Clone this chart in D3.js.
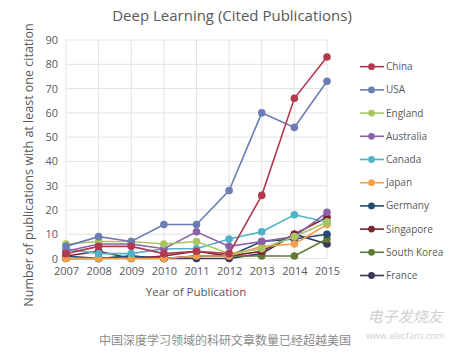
<!DOCTYPE html>
<html><head><meta charset="utf-8">
<script src="https://cdn.jsdelivr.net/npm/d3@7"></script>
<style>body{margin:0;background:#fff}svg{display:block}text{font-family:"Open Sans",sans-serif}</style>
</head><body>
<script>
const years = [2007,2008,2009,2010,2011,2012,2013,2014,2015];
const yTicks = [0,10,20,30,40,50,60,70,80,90];
const seriesNames = ["China","USA","England","Australia","Canada","Japan","Germany","Singapore","South Korea","France"];
const China      = [2,5,5,2,3,2,26,66,83];
const USA        = [5,9,7,14,14,28,60,54,73];
const England    = [6,7,7,6,7,2,4,9,15];
const Australia  = [3,6,6,4,11,5,7,9,19];
const Canada     = [4,2,2,4,4,8,11,18,15];
const Japan      = [0,0,0,0,1,1,5,6,14];
const Germany    = [1,0,1,0,1,1,7,8,10];
const Singapore  = [1,3,0,1,3,1,3,10,17];
const SouthKorea = [0,0,0,0,1,1,1,1,8];
const France     = [0,0,1,0,0,0,2,10,6];
const seriesValues = [China,USA,England,Australia,Canada,Japan,Germany,Singapore,SouthKorea,France];
const colors = ["#b23a4f","#6b7db3","#a8c562","#8a62aa","#4fb2c8","#f2a04c","#264a70","#7c2331","#5e7a36","#3d3658"];

const W=464,H=353;
const svg=d3.select("body").append("svg").attr("width",W).attr("height",H);
const x=d3.scalePoint().domain(years).range([66,327]);
const y=d3.scaleLinear().domain([0,90]).range([258.5,40]);

// grid
const g=svg.append("g");
g.selectAll(".h").data(yTicks).join("line").attr("x1",66).attr("x2",327)
 .attr("y1",d=>y(d)).attr("y2",d=>y(d)).attr("stroke","#e3e3e3").attr("stroke-width",1);
g.selectAll(".v").data(years).join("line").attr("x1",d=>x(d)).attr("x2",d=>x(d))
 .attr("y1",y(0)).attr("y2",y(90)).attr("stroke","#e3e3e3").attr("stroke-width",1);

// axes
const ya=svg.append("g").attr("transform","translate(66,0)")
 .call(d3.axisLeft(y).tickValues(yTicks).tickSize(0).tickPadding(8));
ya.select(".domain").remove();
ya.selectAll("text").attr("fill","#595959").style("font-size","11px");
const xa=svg.append("g").attr("transform",`translate(0,${y(0)})`)
 .call(d3.axisBottom(x).tickSize(0).tickPadding(9).tickFormat(d3.format("d")));
xa.select(".domain").remove();
xa.selectAll("text").attr("fill","#595959").style("font-size","11px");

// lines
const line=d3.line().x((d,i)=>x(years[i])).y(d=>y(d));
const data=seriesNames.map((n,i)=>({name:n,values:seriesValues[i],color:colors[i]}));
const sg=svg.append("g");
[...data].reverse().forEach(s=>{
  sg.append("path").attr("d",line(s.values)).attr("fill","none").attr("stroke",s.color).attr("stroke-width",1.6);
  sg.selectAll(null).data(s.values).join("circle").attr("cx",(d,i)=>x(years[i])).attr("cy",d=>y(d))
   .attr("r",3.8).attr("fill",s.color);
});

// legend
const lg=svg.append("g");
data.forEach((s,i)=>{
  const yy=66.7+i*23.2;
  lg.append("line").attr("x1",360).attr("x2",384).attr("y1",yy).attr("y2",yy).attr("stroke",s.color).attr("stroke-width",1.6);
  lg.append("circle").attr("cx",371.5).attr("cy",yy).attr("r",3.4).attr("fill",s.color);
  lg.append("text").attr("x",386).attr("y",yy).attr("dy","0.35em").attr("fill","#595959").style("font-size","10px").text(s.name);
});

// titles
svg.append("text").attr("x",232).attr("y",21).attr("text-anchor","middle").attr("fill","#595959")
 .style("font-size","15px").text("Deep Learning (Cited Publications)");
svg.append("text").attr("transform","translate(33,165) rotate(-90)").attr("text-anchor","middle")
 .attr("fill","#595959").style("font-size","12.5px").text("Number of publications with at least one citation");
svg.append("text").attr("x",196).attr("y",296).attr("text-anchor","middle").attr("fill","#595959")
 .style("font-size","11.5px").text("Year of Publication");
svg.append("text").attr("x",225).attr("y",345).attr("text-anchor","middle").attr("fill","#8a8a8a")
 .style("font-size","12px").style("font-family","'Noto Sans CJK SC'").text("中国深度学习领域的科研文章数量已经超越美国");
// watermark
svg.append("text").attr("x",405).attr("y",322).attr("text-anchor","middle").attr("fill","#d0d0d0")
 .style("font-size","15px").style("font-family","'Noto Sans CJK SC'").style("font-style","italic").text("电子发烧友");
svg.append("text").attr("x",405).attr("y",339).attr("text-anchor","middle").attr("fill","#d0d0d0")
 .style("font-size","9px").text("www.elecfans.com");
</script>
</body></html>
